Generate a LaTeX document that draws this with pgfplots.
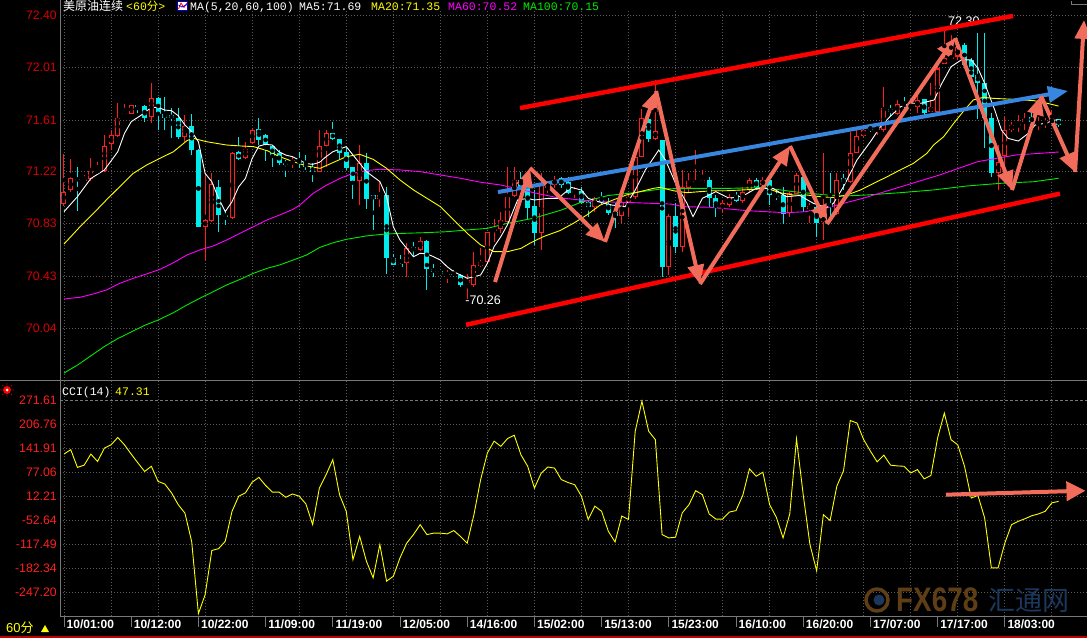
\documentclass[border=0pt]{standalone}
\usepackage{pgfplots}
\pgfplotsset{compat=1.18}
\usepackage{pgfplotstable}
\usepackage{fontspec}
\setmainfont{Liberation Sans}
\newfontfamily\cjk{Noto Sans CJK SC}
\newfontfamily\mono{Liberation Mono}
\usetikzlibrary{arrows.meta}

\definecolor{candleup}{RGB}{255,30,30}
\definecolor{candledn}{RGB}{0,235,235}
\definecolor{gridc}{RGB}{90,90,90}
\definecolor{axred}{RGB}{215,0,0}
\definecolor{axredb}{RGB}{255,30,30}
\definecolor{salmon}{RGB}{242,108,92}
\definecolor{bluearr}{RGB}{55,135,225}
\definecolor{maYel}{RGB}{255,255,0}
\definecolor{maMag}{RGB}{255,0,255}
\definecolor{maGrn}{RGB}{0,235,0}
\definecolor{wmBrown}{RGB}{95,62,22}
\definecolor{wmBlue}{RGB}{28,55,92}
\definecolor{frame}{RGB}{120,120,120}

\pgfplotstableread{
i o h l c
0 70.98 71.35 70.96 71.07
1 71.08 71.32 71.07 71.17
2 71.165 71.257 70.923 71.16
3 71.155 71.195 71.145 71.165
4 71.162 71.32 71.149 71.227
5 71.22 71.29 71.215 71.228
6 71.227 71.496 71.22 71.413
7 71.428 71.534 71.383 71.496
8 71.491 71.735 71.484 71.63
9 71.645 71.728 71.645 71.66
10 71.66 71.728 71.655 71.723
11 71.72 71.735 71.667 71.715
12 71.715 71.723 71.597 71.627
13 71.63 71.886 71.584 71.78
14 71.778 71.78 71.534 71.655
15 71.655 71.785 71.534 71.627
16 71.647 71.697 71.471 71.622
17 71.627 71.705 71.471 71.484
18 71.484 71.647 71.446 71.564
19 71.564 71.66 71.345 71.383
20 71.383 71.39 70.80 70.804
21 70.804 71.207 70.553 70.855
22 70.85 71.207 70.842 71.131
23 71.106 71.157 70.767 70.892
24 70.897 70.93 70.817 70.88
25 70.872 71.37 70.862 71.365
26 71.365 71.484 71.307 71.315
27 71.32 71.446 71.315 71.39
28 71.438 71.547 71.433 71.534
29 71.541 71.622 71.421 71.458
30 71.501 71.505 71.30 71.421
31 71.416 71.421 71.257 71.34
32 71.358 71.383 71.27 71.282
33 71.285 71.307 71.182 71.28
34 71.282 71.333 71.245 71.307
35 71.307 71.37 71.245 71.282
36 71.282 71.345 71.232 71.257
37 71.257 71.282 71.139 71.22
38 71.22 71.534 71.215 71.413
39 71.416 71.534 71.257 71.516
40 71.516 71.597 71.458 71.466
41 71.471 71.471 71.32 71.365
42 71.37 71.401 71.237 71.252
43 71.257 71.257 71.018 71.152
44 71.152 71.421 70.968 71.283
45 71.288 71.358 70.935 71.011
46 71.044 71.044 70.779 71.011
47 71.011 71.149 70.955 71.044
48 71.044 71.106 70.452 70.571
49 70.571 70.603 70.515 70.515
50 70.523 70.591 70.498 70.498
51 70.528 70.679 70.427 70.641
52 70.654 70.691 70.578 70.628
53 70.628 70.729 70.623 70.699
54 70.699 70.704 70.327 70.49
55 70.488 70.523 70.427 70.465
56 70.472 70.472 70.44 70.447
57 70.445 70.477 70.377 70.45
58 70.45 70.477 70.427 70.445
59 70.44 70.452 70.352 70.364
60 70.38 70.452 70.26 70.40
61 70.369 70.616 70.352 70.515
62 70.51 70.641 70.503 70.54
63 70.54 70.767 70.528 70.762
64 70.775 70.867 70.691 70.792
65 70.787 70.918 70.754 70.855
66 70.84 71.258 70.818 71.031
67 71.04 71.258 71.03 71.157
68 71.157 71.22 71.08 71.107
69 71.107 71.182 70.855 70.945
70 70.96 71.081 70.667 70.755
71 70.76 71.208 70.63 71.12
72 71.10 71.132 71.056 71.13
73 71.12 71.19 71.10 71.16
74 71.17 71.18 71.10 71.12
75 71.144 71.182 71.051 71.056
76 71.06 71.107 71.019 71.077
77 71.077 71.107 70.976 70.981
78 70.994 71.006 70.88 70.951
79 70.956 71.031 70.918 71.019
80 71.031 71.069 70.968 70.994
81 70.981 71.019 70.893 70.91
82 70.918 70.981 70.792 70.888
83 70.888 71.031 70.83 70.994
84 70.994 71.056 70.88 71.031
85 71.031 71.345 71.019 71.333
86 71.333 71.69 71.328 71.622
87 71.622 71.698 71.446 71.471
88 71.471 71.912 71.459 71.527
89 71.459 71.46 70.427 70.503
90 70.498 70.905 70.44 70.885
91 70.885 70.981 70.604 70.654
92 70.649 71.232 70.616 71.106
93 71.101 71.207 71.069 71.149
94 71.132 71.383 71.132 71.149
95 71.132 71.232 71.132 71.157
96 71.157 71.182 70.956 71.019
97 71.019 71.044 70.88 70.943
98 70.943 71.006 70.905 70.981
99 70.968 71.056 70.956 71.031
100 71.044 71.069 70.994 71.001
101 71.001 71.107 70.981 71.069
102 71.081 71.17 71.069 71.157
103 71.157 71.17 71.081 71.107
104 71.119 71.182 71.094 71.157
105 71.157 71.17 70.968 71.044
106 71.044 71.069 71.006 71.031
107 71.044 71.107 70.83 70.905
108 70.905 71.069 70.88 71.056
109 71.056 71.207 71.051 71.195
110 71.182 71.207 70.918 70.956
111 70.94 70.98 70.83 70.96
112 70.956 71.031 70.729 70.83
113 70.84 71.358 70.704 70.88
114 70.981 71.207 70.88 70.956
115 70.90 71.207 70.893 71.157
116 71.17 71.207 71.081 71.144
117 71.144 71.522 71.132 71.358
118 71.363 71.534 71.358 71.489
119 71.489 71.547 71.484 71.534
120 71.554 71.572 71.522 71.534
121 71.54 71.572 71.497 71.55
122 71.534 71.861 71.522 71.698
123 71.698 71.723 71.635 71.673
124 71.66 71.761 71.648 71.735
125 71.735 71.786 71.685 71.715
126 71.715 71.735 71.685 71.72
127 71.71 71.798 71.66 71.761
128 71.766 71.773 71.635 71.66
129 71.673 71.887 71.673 71.71
130 71.673 72.063 71.66 72.00
131 72.037 72.30 72.037 72.075
132 72.075 72.25 72.063 72.088
133 72.09 72.18 72.06 72.16
134 72.176 72.188 72.012 72.025
135 72.063 72.075 71.861 71.937
136 71.949 72.264 71.622 71.887
137 71.887 72.264 71.396 71.622
138 71.622 71.66 71.182 71.207
139 71.207 71.421 71.082 71.295
140 71.338 71.635 71.232 71.534
141 71.534 71.597 71.522 71.572
142 71.565 71.648 71.522 71.577
143 71.593 71.66 71.534 71.617
144 71.635 71.66 71.56 71.597
145 71.572 71.635 71.534 71.59
146 71.588 71.622 71.547 71.592
147 71.597 71.685 71.585 71.61
148 71.615 71.622 71.56 71.572
}\candles

\pgfplotstableread{
i p
0 70.918
2 71.031
4 71.169
6 71.232
8 71.370
9 71.509
10 71.597
11.5 71.647
13 71.705
14 71.705
15 71.685
16 71.680
17 71.642
18 71.572
19 71.521
20 71.446
21 71.207
22 71.144
23 71.018
24 70.918
25 70.993
26 71.106
27 71.169
28 71.320
29 71.413
30 71.426
31 71.421
32 71.370
33 71.345
34 71.333
35 71.307
36 71.282
37 71.275
38 71.290
39 71.333
40 71.370
42 71.409
44 71.283
45 71.220
47 71.145
48 71.031
49 70.805
50 70.704
51 70.641
52 70.578
53 70.604
54 70.599
55 70.578
56 70.553
57 70.503
58 70.465
59 70.440
60 70.415
62 70.440
63 70.528
64 70.654
65 70.729
66 70.820
67.5 71.006
69 71.018
70 71.006
72 71.018
73.5 71.018
75.5 71.101
77 71.081
78 71.019
79.5 70.993
81.5 70.968
83.5 70.956
85 71.081
86.5 71.232
88.5 71.383
89.5 71.308
91 71.132
92.7 70.981
93.6 70.880
95 71.019
97 71.069
99 71.019
101 71.036
103 71.094
105.5 71.094
107.5 71.031
109.5 71.040
111.5 70.981
113.5 70.950
114.5 70.981
116 71.107
118 71.308
120 71.446
121.5 71.559
123 71.640
124.5 71.710
126 71.736
127.5 71.736
129.5 71.761
130.5 71.874
132 72.012
133.5 72.063
135 72.063
136 72.000
137 71.887
138.5 71.685
139.5 71.534
140.5 71.471
142 71.451
143.5 71.509
144.5 71.572
146 71.585
147.5 71.610
148 71.610
}\maA

\pgfplotstableread{
i p
0 70.674
2.4 70.805
4.4 70.906
6.3 71.006
8.3 71.107
10.3 71.207
12.3 71.270
14.3 71.321
16.3 71.371
18.3 71.454
19.2 71.472
21.2 71.446
24.2 71.421
26.2 71.414
28.2 71.409
30.2 71.379
32.1 71.333
34.1 71.296
36.1 71.263
38.1 71.245
40.1 71.290
42 71.333
44 71.351
46 71.313
48 71.245
50 71.157
52 71.082
54 71.019
56 70.956
58 70.855
60 70.755
62 70.667
64 70.616
66 70.616
68 70.641
69.3 70.679
71.3 70.729
73.8 70.775
75.8 70.830
77.8 70.893
79.8 70.968
81.7 71.006
83.7 71.044
85.7 71.069
87.7 71.094
88.7 71.101
90.7 71.076
92.7 71.061
94.6 71.069
96.6 71.076
98.6 71.076
100.6 71.081
102.6 71.086
104.6 71.094
106.5 71.061
108.5 71.044
110.5 71.044
112.5 71.031
114.5 71.025
116.5 71.044
118.5 71.081
120.5 71.132
122.5 71.182
124.4 71.232
126.4 71.283
128.4 71.358
129.4 71.421
130.9 71.484
132.4 71.585
133.8 71.673
135.3 71.761
136.8 71.781
138.3 71.773
141.3 71.766
144.3 71.756
146.3 71.736
148 71.715
}\maB

\pgfplotstableread{
i p
0 70.259
2.4 70.272
4.4 70.297
6.3 70.327
8.3 70.377
10.3 70.415
12.3 70.448
14.3 70.483
16.3 70.533
18.3 70.591
20.2 70.629
22.2 70.659
24.2 70.704
26.2 70.755
28.2 70.805
30.2 70.855
32.1 70.893
34.1 70.936
35.1 70.968
37.1 71.057
39.1 71.119
41.1 71.170
43 71.207
45 71.228
47 71.238
50 71.233
53 71.220
56 71.195
59 71.170
62 71.140
65 71.119
67.6 71.090
70 71.060
73.3 71.025
79 70.994
84.7 70.986
90.4 70.975
92.1 70.956
96.1 70.951
101.8 70.925
107.5 70.910
110.4 70.918
113.2 70.943
116 70.981
118.9 71.019
124.6 71.107
130.3 71.195
136 71.296
141.7 71.346
148 71.368
}\maC

\pgfplotstableread{
i p
0 69.70
2 69.76
4 69.83
6 69.90
8 69.96
10 70.01
12 70.06
14 70.10
16.3 70.156
18.3 70.214
20.2 70.264
22.2 70.314
24.2 70.365
26.2 70.407
28.2 70.453
30.2 70.490
32.1 70.516
34.1 70.553
36.1 70.591
38.1 70.649
40.1 70.684
42 70.709
45 70.735
48 70.750
51 70.755
54 70.760
57 70.767
60 70.780
63 70.792
66 70.830
70 70.870
74 70.930
77 70.990
81 71.040
84 71.056
89 71.090
94 71.094
99 71.094
104 71.100
108.5 71.069
113.5 71.044
116 71.036
119.5 71.044
124.4 71.061
129.4 71.082
134.4 71.112
139.4 71.132
144.3 71.144
148 71.170
}\maD

\pgfplotstableread{
i v
0 127
1 139
2 91
3 97
4 127
5 107
6 143
7 152
8 172
9 152
10 127
11 103
12 80
13 94
14 53
15 46
16 22
17 -10
18 -33
19 -110
20 -305
21 -254
22 -134
23 -129
24 -109
25 -28
26 13
27 22
28 51
29 64
30 42
31 24
32 24
33 10
34 19
35 13
36 -8
37 -64
38 35
39 71
40 112
41 17
42 -28
43 -159
44 -96
45 -163
46 -208
47 -118
48 -217
49 -204
50 -154
51 -114
52 -91
53 -64
54 -91
55 -87
56 -87
57 -89
58 -80
59 -96
60 -114
61 -37
62 58
63 130
64 162
65 148
66 169
67 178
68 125
69 94
70 35
71 75
72 92
73 89
74 58
75 50
76 44
77 13
78 -50
79 -14
80 -28
81 -82
82 -111
83 -41
84 -50
85 189
86 270
87 189
88 166
89 -91
90 -100
91 -98
92 -32
93 -10
94 28
95 17
96 -35
97 -49
98 -49
99 -30
100 -26
101 15
102 87
103 67
104 78
105 -10
106 -44
107 -100
108 -35
109 168
110 17
111 -118
112 -189
113 -37
114 -53
115 40
116 82
117 218
118 211
119 166
120 135
121 106
122 124
123 97
124 95
125 94
126 76
127 85
128 60
129 69
130 171
131 238
132 166
133 152
134 94
135 8
136 15
137 -46
138 -181
139 -181
140 -114
141 -64
142 -55
143 -48
144 -40
145 -35
146 -28
147 -5
148 -1
}\cci

\pgfplotsset{
  candle/.style 2 args={only marks, mark=none, forget plot,
    error bars/y dir=both, error bars/y explicit, error bars/error mark=none,
    error bars/error bar style={draw=#1, line width=#2, solid}},
}

\begin{document}
\begin{tikzpicture}
\fill[black] (0pt,0pt) rectangle (1087pt,638pt);

% ---------------- upper panel ----------------
\begin{axis}[
  at={(60pt,257pt)}, anchor=south west, scale only axis,
  width=1027pt, height=371pt,
  xmin=-0.595, xmax=152.23, ymin=69.640, ymax=72.44,
  axis line style={draw=none},
  xtick={0,7,...,147}, xticklabels={}, xmajorgrids,
  ytick={70.04,70.43,70.83,71.22,71.61,72.01,72.40},
  yticklabels={70.04,70.43,70.83,71.22,71.61,72.01,72.40},
  ymajorgrids,
  grid style={gridc, dash pattern=on 1pt off 2pt, line width=0.8pt},
  major tick length=0pt,
  yticklabel style={text=axred, font=\fontsize{12.3}{13}\selectfont, anchor=east, inner sep=0pt, xshift=-3pt},
]
% up candles (red, hollow)
\addplot[restrict expr to domain={\thisrow{c}-\thisrow{o}}{0:10}, candle={candleup}{1pt}]
  table[x=i, y expr={(\thisrow{h}+\thisrow{l})/2}, y error expr={(\thisrow{h}-\thisrow{l})/2}] {\candles};
\addplot[restrict expr to domain={\thisrow{c}-\thisrow{o}}{0:10}, candle={candleup}{5pt}]
  table[x=i, y expr={(\thisrow{o}+\thisrow{c})/2}, y error expr={max(abs(\thisrow{c}-\thisrow{o})/2,0.004)}] {\candles};
\addplot[restrict expr to domain={\thisrow{c}-\thisrow{o}}{0:10}, candle={black}{3pt}]
  table[x=i, y expr={(\thisrow{o}+\thisrow{c})/2}, y error expr={max(abs(\thisrow{c}-\thisrow{o})/2-0.0076,0)}] {\candles};
% down candles (cyan, filled)
\addplot[restrict expr to domain={\thisrow{c}-\thisrow{o}}{-10:-0.000001}, candle={candledn}{1pt}]
  table[x=i, y expr={(\thisrow{h}+\thisrow{l})/2}, y error expr={(\thisrow{h}-\thisrow{l})/2}] {\candles};
\addplot[restrict expr to domain={\thisrow{c}-\thisrow{o}}{-10:-0.000001}, candle={candledn}{5pt}]
  table[x=i, y expr={(\thisrow{o}+\thisrow{c})/2}, y error expr={max(abs(\thisrow{c}-\thisrow{o})/2,0.004)}] {\candles};

% moving averages
\addplot[maGrn, line width=0.9pt, mark=none] table[x=i,y=p] {\maD};
\addplot[maMag, line width=0.9pt, mark=none] table[x=i,y=p] {\maC};
\addplot[maYel, line width=0.9pt, mark=none] table[x=i,y=p] {\maB};
\addplot[white, line width=0.9pt, mark=none] table[x=i,y=p] {\maA};

% labels of extremes
\node[text=white, font=\fontsize{12.5}{13}\selectfont, inner sep=0pt] at (axis cs:133.9,72.352) {72.30};
\node[text=white, font=\fontsize{12.5}{13}\selectfont, inner sep=0pt, anchor=west] at (axis cs:59.7,70.253) {-70.26};

% channel lines
\addplot[red, line width=4.5pt, mark=none] coordinates {(67.86,71.700) (141.22,72.395)};
\addplot[red, line width=4.5pt, mark=none] coordinates {(59.82,70.064) (148.21,71.054)};
% blue trend arrow
\addplot[bluearr, line width=4pt, mark=none, -{Triangle[length=20pt,width=16pt]}] coordinates {(64.58,71.066) (149.4,71.829)};
% zigzag arrows
\addplot[salmon, line width=4pt, mark=none, -{Triangle[length=19pt,width=16pt]}] coordinates {(64.14,70.387) (69.35,71.248)};
\addplot[salmon, line width=4pt, mark=none, -{Triangle[length=19pt,width=16pt]}] coordinates {(69.35,71.248) (80.51,70.689)};
\addplot[salmon, line width=4pt, mark=none, -{Triangle[length=19pt,width=16pt]}] coordinates {(80.51,70.689) (88.10,71.829)};
\addplot[salmon, line width=4pt, mark=none, -{Triangle[length=19pt,width=16pt]}] coordinates {(88.10,71.829) (94.64,70.372)};
\addplot[salmon, line width=4pt, mark=none, -{Triangle[length=19pt,width=16pt]}] coordinates {(94.64,70.372) (108.04,71.413)};
\addplot[salmon, line width=4pt, mark=none, -{Triangle[length=19pt,width=16pt]}] coordinates {(108.04,71.413) (113.54,70.825)};
\addplot[salmon, line width=4pt, mark=none, -{Triangle[length=19pt,width=16pt]}] coordinates {(113.54,70.825) (132.59,72.229)};
\addplot[salmon, line width=4pt, mark=none, -{Triangle[length=19pt,width=16pt]}] coordinates {(132.59,72.229) (141.07,71.081)};
\addplot[salmon, line width=4pt, mark=none, -{Triangle[length=19pt,width=16pt]}] coordinates {(141.07,71.081) (145.39,71.791)};
\addplot[salmon, line width=4pt, mark=none, -{Triangle[length=19pt,width=16pt]}] coordinates {(145.39,71.791) (150.45,71.217)};
\addplot[salmon, line width=4pt, mark=none, -{Triangle[length=19pt,width=16pt]}] coordinates {(150.45,71.217) (151.79,72.365)};
\end{axis}

% ---------------- lower panel (CCI) ----------------
\begin{axis}[
  at={(60pt,22pt)}, anchor=south west, scale only axis,
  width=1027pt, height=235pt,
  xmin=-0.595, xmax=152.23, ymin=-311.4, ymax=324.9,
  axis line style={draw=none}, clip=false,
  xtick={0,7,...,147}, xticklabels={}, xmajorgrids,
  extra x ticks={0,10,...,140},
  extra x tick labels={10/01:00,10/12:00,10/22:00,11/09:00,11/19:00,12/05:00,14/16:00,15/02:00,15/13:00,15/23:00,16/10:00,16/20:00,17/07:00,17/17:00,18/03:00},
  extra x tick style={grid=none, xticklabel style={anchor=north west, inner sep=0pt, xshift=2.5pt, yshift=-4pt, text=white, font=\bfseries\fontsize{12}{13}\selectfont}},
  ytick={-247.20,-182.34,-117.49,-52.64,12.21,77.06,141.91,206.76},
  yticklabels={-247.20,-182.34,-117.49,-52.64,12.21,77.06,141.91,206.76},
  extra y ticks={271.61}, extra y tick labels={271.61},
  extra y tick style={grid=major, grid style={color=frame, dash pattern=on 3pt off 2pt, line width=0.8pt}},
  ymajorgrids,
  grid style={gridc, dash pattern=on 1pt off 2pt, line width=0.8pt},
  major tick length=0pt,
  yticklabel style={text=axredb, font=\fontsize{12.3}{13}\selectfont, anchor=east, inner sep=0pt, xshift=-3pt},
]
\addplot[maYel, line width=0.9pt, mark=none] table[x=i,y=v] {\cci};
\addplot[salmon, line width=4pt, mark=none, -{Triangle[length=19pt,width=19pt]}] coordinates {(131.25,17.1) (152.0,27.9)};
\end{axis}

\begin{scope}[x=1pt,y=1pt]
% ---------------- frame ----------------
\draw[frame, line width=1pt] (60,22) -- (60,638);
\draw[frame, line width=1pt] (0,257) -- (1087,257);
\draw[frame, line width=1pt] (60,22) -- (1087,22);
\foreach \k in {0,...,14} \draw[frame, line width=1pt] ({64+67.2*\k},22) -- ({64+67.2*\k},11);
\draw[red!75!black, line width=1.5pt] (0,1) -- (1087,1);
\draw[frame, line width=0.8pt] (1071,637) -- (1071,634) -- (1087,634);

% ---------------- titles ----------------
\node[anchor=base west, inner sep=0pt, text=white, font=\cjk\fontsize{12}{12}\selectfont] at (63,627.5) {美原油连续};
\node[anchor=base west, inner sep=0pt, text=maYel, font=\fontsize{11.5}{12}\selectfont] at (126,627.5) {\mono<60\cjk 分\mono>};
\fill[white] (177,627) rectangle (188,637);
\draw[blue!80!black, line width=0.6pt] (177.5,627.5) rectangle (187.5,636.5);
\draw[red, line width=0.8pt] (178.5,629) -- (181,635) -- (184,630.5) -- (187,635);
\draw[blue, line width=0.8pt] (178.5,633) -- (182,631) -- (187,633.5);
\node[anchor=base west, inner sep=0pt, text=white, font=\mono\fontsize{11.5}{12}\selectfont] at (190,627.5) {MA(5,20,60,100)};
\node[anchor=base west, inner sep=0pt, text=white, font=\mono\fontsize{11.5}{12}\selectfont] at (299,627.5) {MA5:71.69};
\node[anchor=base west, inner sep=0pt, text=maYel, font=\mono\fontsize{11.5}{12}\selectfont] at (371,627.5) {MA20:71.35};
\node[anchor=base west, inner sep=0pt, text=maMag, font=\mono\fontsize{11.5}{12}\selectfont] at (448,627.5) {MA60:70.52};
\node[anchor=base west, inner sep=0pt, text=maGrn, font=\mono\fontsize{11.5}{12}\selectfont] at (523,627.5) {MA100:70.15};

\node[anchor=base west, inner sep=0pt, text=white, font=\mono\fontsize{11.5}{12}\selectfont] at (62,243) {CCI(14)};
\node[anchor=base west, inner sep=0pt, text=maYel, font=\mono\fontsize{11.5}{12}\selectfont] at (115,243) {47.31};
\fill[red] (7,248) circle (4);
\fill[white] (7,248) circle (1.5);
\foreach \a in {0,45,...,315} \fill[red] (7,248) ++(\a:6) circle (0.6);

\node[anchor=base west, inner sep=0pt, text=maYel, font=\fontsize{13}{13}\selectfont] at (6,6) {60\cjk 分};
\fill[maYel] (41,6) -- (49,6) -- (45,13) -- cycle;

% ---------------- watermark ----------------
\draw[wmBrown, line width=3.5pt] (877,38) circle (11);
\fill[wmBlue] (879,38) circle (5.5);
\node[anchor=base west, inner sep=0pt, text=wmBrown, font=\bfseries\fontsize{34}{34}\selectfont] at (896,27) {\scalebox{0.82}[1]{FX678}};
\node[anchor=base west, inner sep=0pt, text=wmBlue, font=\cjk\fontsize{27}{27}\selectfont] at (988,28) {汇通网};
\end{scope}

\pgfresetboundingbox
\useasboundingbox (0pt,0pt) rectangle (1087pt,638pt);
\end{tikzpicture}
\end{document}
